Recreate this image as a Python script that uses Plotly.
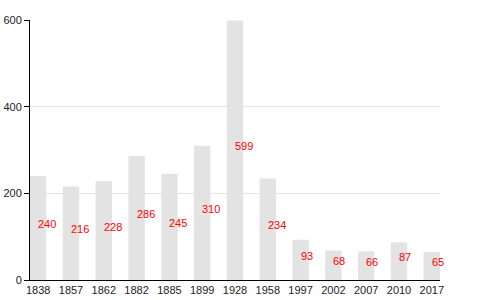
import plotly.graph_objects as go

years = ["1838", "1857", "1862", "1882", "1885", "1899", "1928", "1958", "1997", "2002", "2007", "2010", "2017"]
values = [240, 216, 228, 286, 245, 310, 599, 234, 93, 68, 66, 87, 65]
y_ticks = [0, 200, 400, 600]

fig = go.Figure()
fig.add_trace(go.Bar(x=years, y=values, marker=dict(color="#e3e3e3", line=dict(width=0)),
                     hoverinfo="skip", showlegend=False))

for i, v in enumerate(values):
    fig.add_annotation(x=i, y=v / 2, xref="x", yref="y", text=str(v), showarrow=False,
                       xanchor="left", yanchor="middle", xshift=-2, yshift=4,
                       font=dict(family="Liberation Sans, Arial, sans-serif", size=11, color="#ff0000"))

fig.update_layout(
    width=480, height=300,
    margin=dict(l=30, r=40, t=20, b=20, pad=0, autoexpand=False),
    plot_bgcolor="white", paper_bgcolor="white",
    bargap=0.5,
    font=dict(family="Liberation Sans, Arial, sans-serif", size=10, color="#222"),
    xaxis=dict(type="category", range=[-0.25, 12.25], showline=True, linecolor="black", linewidth=1,
               ticks="", showgrid=False, automargin=False, tickfont=dict(size=11, color="#222")),
    yaxis=dict(range=[0, 600], tickvals=y_ticks, showline=True, linecolor="black", linewidth=1,
               ticks="outside", ticklen=5, tickcolor="black", showgrid=True, gridcolor="#e3e3e3",
               zeroline=False, automargin=False, tickfont=dict(size=11, color="#222")),
)

fig.write_html("out.html")
